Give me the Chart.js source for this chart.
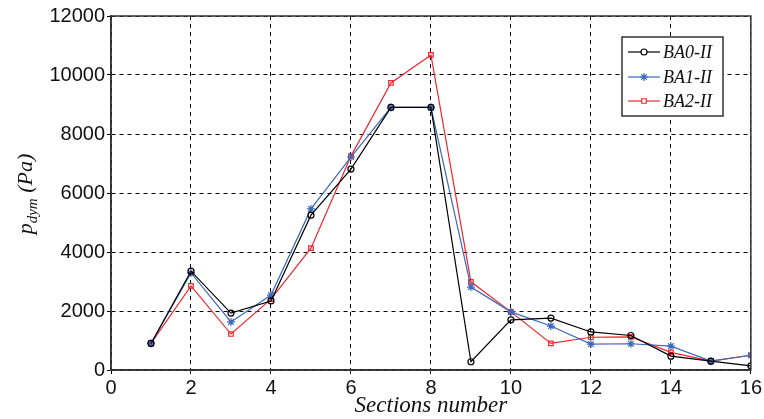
<!DOCTYPE html>
<html>
<head>
<meta charset="utf-8">
<script src="https://cdn.jsdelivr.net/npm/chart.js@4.4.0/dist/chart.umd.min.js"></script>
<style>
  html, body { margin: 0; padding: 0; background: #fff; }
  #wrap { width: 764px; height: 419px; }
</style>
</head>
<body>
<div id="wrap"><canvas id="chart" width="764" height="419"></canvas></div>
<script>
// section numbers along the duct
const sections = [1, 2, 3, 4, 5, 6, 7, 8, 9, 10, 11, 12, 13, 14, 15, 16];

// dynamic pressure (Pa)
const ba0 = [900, 3350, 1930, 2340, 5250, 6810, 8900, 8900, 280, 1700, 1760, 1290, 1170, 470, 300, 140];
const ba1 = [900, 3290, 1630, 2540, 5460, 7220, 8900, 8900, 2810, 1970, 1490, 880, 890, 810, 300, 500];
const ba2 = [900, 2850, 1220, 2400, 4130, 7250, 9730, 10680, 2990, 1970, 900, 1110, 1120, 600, 300, 500];

const seriesNames = ["BA0-II", "BA1-II", "BA2-II"];
const xTicks = [0, 2, 4, 6, 8, 10, 12, 14, 16];
const yTicks = [0, 2000, 4000, 6000, 8000, 10000, 12000];

const toPoints = (vals) => vals.map((v, i) => ({ x: sections[i], y: v }));

const serif = "'Liberation Serif', 'Times New Roman', serif";
const sans = "'Liberation Sans', Arial, sans-serif";

// frame around the plot area, drawn over the dashed grid
const framePlugin = {
    id: "frame",
    afterDraw(chart) {
        const { ctx, chartArea: a } = chart;
        ctx.save();
        ctx.strokeStyle = "#333";
        ctx.lineWidth = 1.5;
        ctx.setLineDash([]);
        ctx.strokeRect(a.left, a.top, a.right - a.left, a.bottom - a.top);
        ctx.restore();
    },
};

// y title with subscript, and x title in italic serif
const titlesPlugin = {
    id: "titles",
    afterDraw(chart) {
        const { ctx, chartArea: a } = chart;
        ctx.save();
        ctx.fillStyle = "#111";
        ctx.textBaseline = "alphabetic";

        // x title
        ctx.font = "italic 23px " + serif;
        ctx.textAlign = "center";
        ctx.fillText("Sections number", (a.left + a.right) / 2, 412);

        // y title: p_dym (Pa), rotated
        ctx.translate(32, 194);
        ctx.rotate(-Math.PI / 2);
        const mainFont = "italic 22px " + serif;
        const subFont = "italic 15px " + serif;
        ctx.font = mainFont;
        const wP = ctx.measureText("p").width;
        ctx.font = subFont;
        const wSub = ctx.measureText("dym").width;
        ctx.font = mainFont;
        const wRest = ctx.measureText(" (Pa)").width;
        let x = -(wP + wSub + wRest) / 2;
        ctx.textAlign = "left";
        ctx.fillText("p", x, 0);
        x += wP;
        ctx.font = subFont;
        ctx.fillText("dym", x, 5);
        x += wSub;
        ctx.font = mainFont;
        ctx.fillText(" (Pa)", x, 0);
        ctx.restore();
    },
};

// boxed legend inside the top-right of the plot
const legendBoxPlugin = {
    id: "legendBox",
    afterDraw(chart) {
        const { ctx } = chart;
        const box = { x: 622, y: 37, w: 101, h: 79 };
        const rows = [52, 77, 101];
        ctx.save();
        ctx.fillStyle = "#fff";
        ctx.fillRect(box.x, box.y, box.w, box.h);
        ctx.strokeStyle = "#333";
        ctx.lineWidth = 1.5;
        ctx.strokeRect(box.x, box.y, box.w, box.h);

        chart.data.datasets.forEach((ds, i) => {
            const y = rows[i];
            ctx.strokeStyle = ds.borderColor;
            ctx.lineWidth = ds.borderWidth;
            ctx.beginPath();
            ctx.moveTo(628, y);
            ctx.lineTo(660, y);
            ctx.stroke();
            ctx.fillStyle = "#fff";
            ctx.strokeStyle = ds.borderColor;
            ctx.lineWidth = 1.2;
            Chart.helpers.drawPoint(ctx, {
                pointStyle: ds.pointStyle,
                radius: ds.pointRadius,
                rotation: 0,
                borderWidth: 1.2,
            }, 644, y);
            ctx.fillStyle = "#111";
            ctx.font = "italic 18px " + serif;
            ctx.textAlign = "left";
            ctx.textBaseline = "middle";
            ctx.fillText(ds.label, 663, y + 1);
        });
        ctx.restore();
    },
};

const makeSet = (label, vals, color, style, radius) => ({
    label: label,
    data: toPoints(vals),
    borderColor: color,
    backgroundColor: "rgba(255,255,255,0)",
    pointBorderColor: color,
    pointBackgroundColor: "rgba(255,255,255,0)",
    borderWidth: 1.2,
    pointStyle: style,
    pointRadius: radius,
    pointBorderWidth: 1.2,
    tension: 0,
});

new Chart(document.getElementById("chart"), {
    type: "line",
    data: {
        datasets: [
            makeSet(seriesNames[0], ba0, "#000000", "circle", 3),
            makeSet(seriesNames[1], ba1, "#3a68c0", "star", 4),
            makeSet(seriesNames[2], ba2, "#f0262e", "rect", 3.2),
        ],
    },
    options: {
        responsive: false,
        animation: false,
        devicePixelRatio: 1,
        layout: { padding: { top: 16, right: 13, bottom: 0, left: 0 } },
        plugins: {
            legend: { display: false },
            tooltip: { enabled: false },
        },
        scales: {
            x: {
                type: "linear",
                min: 0,
                max: 16,
                afterBuildTicks(axis) {
                    axis.ticks = xTicks.map((v) => ({ value: v }));
                },
                afterFit(axis) {
                    axis.height = 49;
                },
                ticks: {
                    color: "#111",
                    font: { family: sans, size: 20 },
                    padding: 2,
                    maxRotation: 0,
                    callback: (v) => String(v),
                },
                grid: { color: "#000", lineWidth: 1, drawTicks: true, tickLength: 4 },
                border: { display: true, color: "#333", width: 1.5, dash: [4, 4] },
            },
            y: {
                min: 0,
                max: 12000,
                afterBuildTicks(axis) {
                    axis.ticks = yTicks.map((v) => ({ value: v }));
                },
                afterFit(axis) {
                    axis.width = 111;
                },
                ticks: {
                    color: "#111",
                    font: { family: sans, size: 20 },
                    padding: 2,
                    callback: (v) => String(v),
                },
                grid: { color: "#000", lineWidth: 1, drawTicks: true, tickLength: 4 },
                border: { display: true, color: "#333", width: 1.5, dash: [4, 4] },
            },
        },
    },
    plugins: [framePlugin, titlesPlugin, legendBoxPlugin],
});
</script>
</body>
</html>
